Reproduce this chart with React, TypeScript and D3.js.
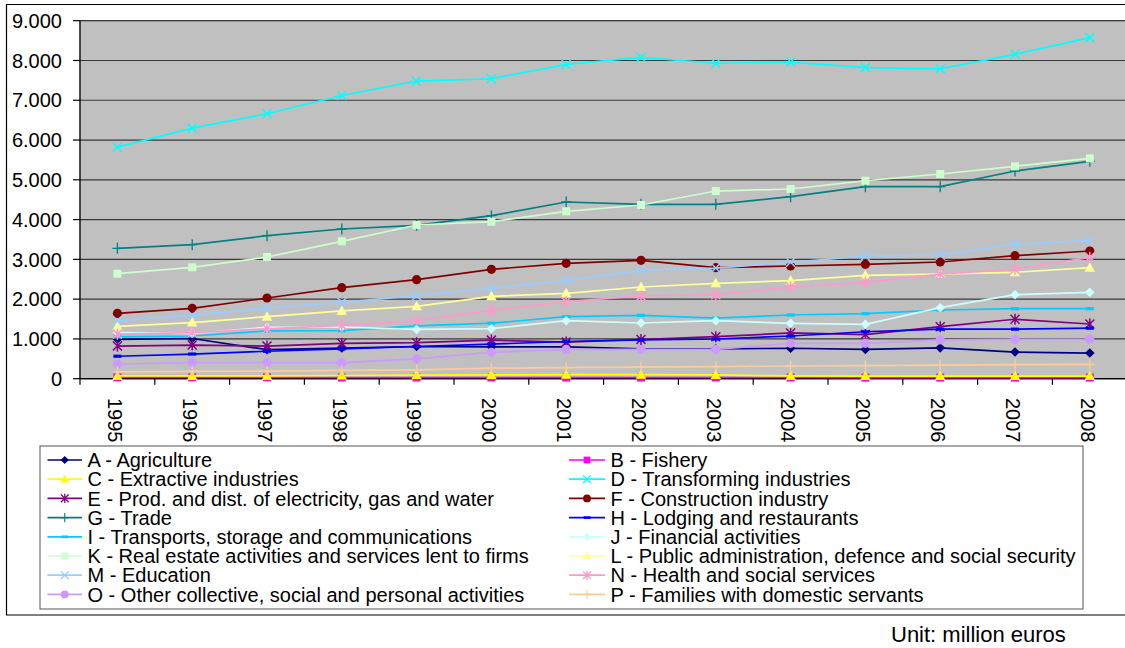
import React from "react";
import * as d3 from "d3";

// Years on the category axis
const years = [1995, 1996, 1997, 1998, 1999, 2000, 2001, 2002, 2003, 2004, 2005, 2006, 2007, 2008];

// Gross value added by activity, million euros
const agriculture = [990, 1010, 730, 770, 810, 800, 800, 750, 750, 765, 735, 775, 670, 645];
const fishery = [35, 35, 35, 30, 30, 30, 30, 30, 30, 30, 28, 28, 28, 28];
const extractive = [70, 70, 70, 80, 90, 95, 100, 100, 95, 70, 65, 65, 65, 65];
const transforming = [5820, 6300, 6660, 7120, 7480, 7540, 7900, 8080, 7930, 7960, 7820, 7790, 8155, 8575];
const electricity = [820, 845, 820, 890, 905, 970, 920, 985, 1056, 1150, 1110, 1307, 1495, 1375];
const construction = [1640, 1770, 2029, 2288, 2489, 2750, 2901, 2976, 2790, 2833, 2876, 2934, 3092, 3210];
const trade = [3278, 3369, 3595, 3763, 3856, 4098, 4442, 4384, 4384, 4575, 4827, 4827, 5221, 5465];
const lodging = [565, 620, 690, 750, 810, 870, 935, 975, 998, 1073, 1180, 1245, 1245, 1270];
const transports = [1050, 1073, 1200, 1207, 1330, 1395, 1559, 1594, 1525, 1601, 1634, 1727, 1760, 1760];
const financial = [1160, 1141, 1290, 1300, 1240, 1257, 1458, 1400, 1458, 1392, 1367, 1785, 2112, 2172];
const realEstate = [2640, 2800, 3059, 3454, 3864, 3947, 4208, 4367, 4718, 4769, 4977, 5146, 5339, 5540];
const publicAdmin = [1315, 1410, 1559, 1705, 1820, 2071, 2147, 2305, 2398, 2464, 2599, 2632, 2675, 2790];
const education = [1460, 1598, 1777, 1920, 2087, 2272, 2464, 2725, 2782, 2926, 3084, 3110, 3378, 3479];
const health = [1120, 1160, 1255, 1340, 1458, 1719, 1936, 2079, 2112, 2305, 2423, 2632, 2750, 3052];
const otherActivities = [370, 405, 402, 402, 500, 665, 735, 739, 739, 890, 890, 975, 990, 990];
const domestic = [170, 185, 190, 210, 220, 265, 277, 290, 302, 319, 327, 340, 352, 358];

const yTicks = [0, 1000, 2000, 3000, 4000, 5000, 6000, 7000, 8000, 9000];

type Marker = "diamond" | "square" | "triangle" | "x" | "asterisk" | "circle" | "plus" | "dash";

const series: { name: string; color: string; marker: Marker; values: number[] }[] = [
  { name: "A - Agriculture", color: "#000080", marker: "diamond", values: agriculture },
  { name: "B - Fishery", color: "#FF00FF", marker: "square", values: fishery },
  { name: "C - Extractive industries", color: "#FFFF00", marker: "triangle", values: extractive },
  { name: "D - Transforming industries", color: "#00FFFF", marker: "x", values: transforming },
  { name: "E - Prod. and dist. of electricity, gas and water", color: "#800080", marker: "asterisk", values: electricity },
  { name: "F - Construction industry", color: "#800000", marker: "circle", values: construction },
  { name: "G - Trade", color: "#008080", marker: "plus", values: trade },
  { name: "H - Lodging and restaurants", color: "#0000FF", marker: "dash", values: lodging },
  { name: "I - Transports, storage and communications", color: "#00CCFF", marker: "dash", values: transports },
  { name: "J - Financial activities", color: "#CCFFFF", marker: "diamond", values: financial },
  { name: "K - Real estate activities and services lent to firms", color: "#CCFFCC", marker: "square", values: realEstate },
  { name: "L - Public administration, defence and social security", color: "#FFFF99", marker: "triangle", values: publicAdmin },
  { name: "M - Education", color: "#99CCFF", marker: "x", values: education },
  { name: "N - Health and social services", color: "#FF99CC", marker: "asterisk", values: health },
  { name: "O - Other collective, social and personal activities", color: "#CC99FF", marker: "circle", values: otherActivities },
  { name: "P - Families with domestic servants", color: "#FFCC99", marker: "plus", values: domestic },
];

const W = 1125;
const H = 648;
const plot = { left: 80, right: 1127.2, top: 20.7, bottom: 378.7 };
const FONT = "'Liberation Sans', Arial, sans-serif";

const x = d3.scaleBand<number>().domain(years).range([plot.left, plot.right]).paddingInner(0).paddingOuter(0);
const xc = (yr: number) => (x(yr) as number) + x.bandwidth() / 2;
const y = d3.scaleLinear().domain([0, 9000]).range([plot.bottom, plot.top]);

function MarkerShape({ kind, color, cx, cy, scale = 1 }: { kind: Marker; color: string; cx: number; cy: number; scale?: number }) {
  const t = `translate(${cx},${cy}) scale(${scale})`;
  switch (kind) {
    case "diamond":
      return <path transform={t} d="M0,-4.8L4.8,0L0,4.8L-4.8,0Z" fill={color} />;
    case "square":
      return <path transform={t} d="M-4,-4H4V4H-4Z" fill={color} />;
    case "triangle":
      return <path transform={t} d="M0,-5.5L5.2,4L-5.2,4Z" fill={color} />;
    case "circle":
      return <circle transform={t} r={4.6} fill={color} />;
    case "x":
      return <path transform={t} d="M-4.5,-4.5L4.5,4.5M-4.5,4.5L4.5,-4.5" stroke={color} strokeWidth={1.5} fill="none" />;
    case "asterisk":
      return (
        <path transform={t} d="M-4.5,-4.5L4.5,4.5M-4.5,4.5L4.5,-4.5M0,-5.5V5.5" stroke={color} strokeWidth={1.5} fill="none" />
      );
    case "plus":
      return <path transform={t} d="M-5,0H5M0,-5.5V5.5" stroke={color} strokeWidth={1.3} fill="none" />;
    case "dash":
      return <path transform={t} d="M-4,-1.6H4V1.6H-4Z" fill={color} />;
  }
}

export default function App() {
  const line = d3
    .line<number>()
    .x((_, i) => xc(years[i]))
    .y((v) => y(v));

  const legendRows = d3.range(8);
  const legendCols = [
    { lineX0: 47.5, lineX1: 82, textX: 87.5 },
    { lineX0: 569, lineX1: 605, textX: 610.5 },
  ];
  const rowY = (r: number) => 460 + r * 19.2;

  return (
    <svg
      width={W}
      height={H}
      viewBox={`0 0 ${W} ${H}`}
      style={{ position: "absolute", left: 0, top: 0, display: "block", background: "#fff" }}
      fontFamily={FONT}
    >
      <rect x={0} y={0} width={W} height={H} fill="#fff" />

      {/* chart frame */}
      <path d={`M${W},4.5H6.5V615H${W}`} fill="none" stroke="#000" strokeWidth={1.2} />

      {/* plot area */}
      <rect x={plot.left} y={plot.top} width={plot.right - plot.left} height={plot.bottom - plot.top} fill="#C0C0C0" stroke="#808080" strokeWidth={1} />

      {/* horizontal gridlines */}
      {yTicks.map((t) => (
        <line key={t} x1={plot.left} x2={plot.right} y1={y(t)} y2={y(t)} stroke="#3a3a3a" strokeWidth={1.2} />
      ))}

      {/* value axis */}
      <line x1={plot.left} x2={plot.left} y1={plot.top} y2={plot.bottom} stroke="#000" strokeWidth={1.2} />
      {yTicks.map((t) => (
        <g key={t}>
          <line x1={plot.left - 7} x2={plot.left} y1={y(t)} y2={y(t)} stroke="#000" strokeWidth={1.2} />
          <text x={62} y={y(t)} dy="0.36em" textAnchor="end" fontSize={20} fill="#000">
            {d3.format(",")(t).replace(/,/g, ".")}
          </text>
        </g>
      ))}

      {/* category axis */}
      <line x1={plot.left} x2={plot.right} y1={plot.bottom} y2={plot.bottom} stroke="#000" strokeWidth={1.2} />
      {years.map((yr) => (
        <line
          key={"t" + yr}
          x1={x(yr) as number}
          x2={x(yr) as number}
          y1={plot.bottom}
          y2={plot.bottom + 6}
          stroke="#000"
          strokeWidth={1.2}
        />
      ))}
      {years.map((yr) => (
        <text
          key={"l" + yr}
          transform={`translate(${xc(yr) - 2},398) rotate(90)`}
          dy="0.36em"
          textAnchor="start"
          fontSize={20}
          fill="#000"
        >
          {yr}
        </text>
      ))}

      {/* series lines and markers */}
      {series.map((s) => (
        <g key={s.name}>
          <path d={line(s.values) || ""} fill="none" stroke={s.color} strokeWidth={1.7} />
          {s.values.map((v, i) => (
            <MarkerShape key={i} kind={s.marker} color={s.color} cx={xc(years[i])} cy={y(v)} />
          ))}
        </g>
      ))}

      {/* legend */}
      <rect x={40} y={446} width={1043} height={163} fill="#fff" stroke="#555" strokeWidth={1} />
      {legendRows.map((r) =>
        legendCols.map((c, ci) => {
          const s = series[r * 2 + ci];
          const cy = rowY(r);
          return (
            <g key={s.name}>
              <line x1={c.lineX0} x2={c.lineX1} y1={cy} y2={cy} stroke={s.color} strokeWidth={1.7} />
              <MarkerShape kind={s.marker} color={s.color} cx={(c.lineX0 + c.lineX1) / 2} cy={cy} scale={0.85} />
              <text x={c.textX} y={cy} dy="0.36em" fontSize={20} fill="#000">
                {s.name}
              </text>
            </g>
          );
        })
      )}

      <text x={891} y={642} fontSize={22} fill="#000">
        Unit: million euros
      </text>
    </svg>
  );
}
